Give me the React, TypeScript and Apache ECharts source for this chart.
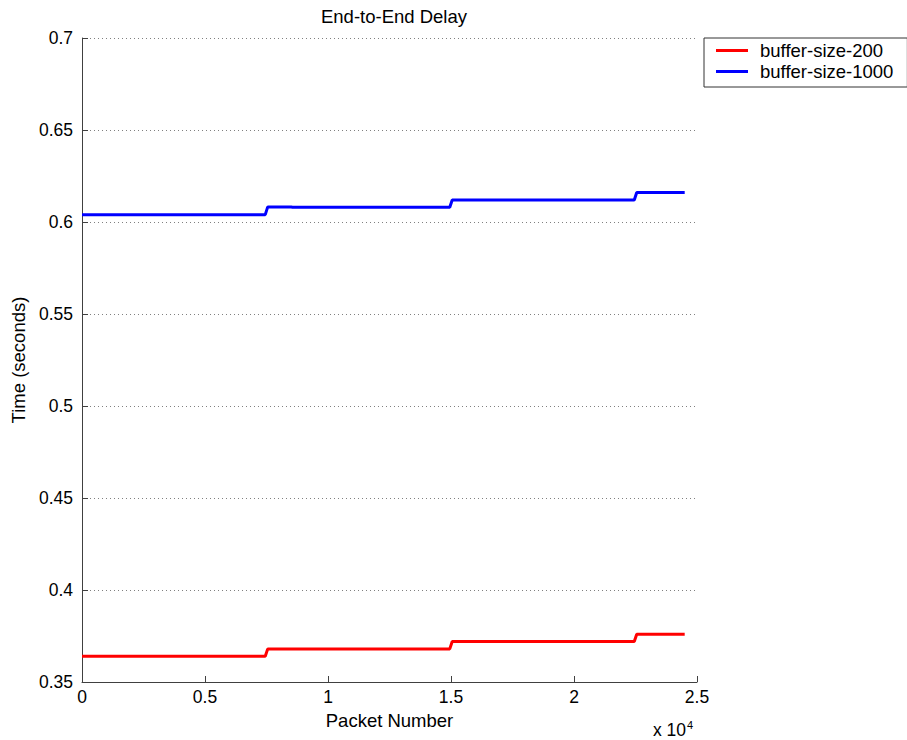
import React, { useEffect, useRef } from "react";
import * as echarts from "echarts";

// Packet index and end-to-end delay (seconds) for each buffer size
const series200: [number, number][] = [
  [0, 0.364],
  [7450, 0.364],
  [7550, 0.368],
  [14950, 0.368],
  [15050, 0.372],
  [22450, 0.372],
  [22550, 0.376],
  [24500, 0.376],
];

const series1000: [number, number][] = [
  [0, 0.604],
  [7450, 0.604],
  [7550, 0.6082],
  [8500, 0.6082],
  [8550, 0.608],
  [14950, 0.608],
  [15050, 0.612],
  [22450, 0.612],
  [22550, 0.616],
  [24500, 0.616],
];

const seriesNames = ["buffer-size-200", "buffer-size-1000"];
const seriesColors = ["#ff0000", "#0000ff"];

const FONT = "'Liberation Sans', Arial, Helvetica, sans-serif";
const AXIS_COLOR = "#404040";
const TEXT_SIZE = 18.5;

export default function App() {
  const ref = useRef<HTMLDivElement>(null);

  useEffect(() => {
    if (!ref.current) return;
    const chart = echarts.init(ref.current, null, { renderer: "svg" });
    chart.setOption({
      animation: false,
      backgroundColor: "#ffffff",
      textStyle: { fontFamily: FONT },
      title: {
        text: "End-to-End Delay",
        left: 389,
        top: 2,
        textAlign: "center",
        textStyle: { fontSize: TEXT_SIZE, fontWeight: "normal", color: "#000", fontFamily: FONT },
      },
      legend: {
        orient: "vertical",
        left: 704,
        top: 38,
        padding: [3, 14, 6, 12],
        itemGap: 2,
        itemWidth: 32,
        itemHeight: 3,
        icon: "rect",
        borderColor: "#333",
        borderWidth: 1,
        backgroundColor: "#fff",
        textStyle: { fontSize: TEXT_SIZE, color: "#000", fontFamily: FONT, padding: [0, 0, 0, 7] },
        data: seriesNames,
      },
      grid: { left: 82, top: 38, width: 615, height: 644, containLabel: false },
      xAxis: {
        type: "value",
        min: 0,
        max: 25000,
        interval: 5000,
        name: "Packet Number",
        nameLocation: "middle",
        nameGap: 29,
        nameTextStyle: { fontSize: TEXT_SIZE, color: "#000", fontFamily: FONT },
        axisLine: { show: true, lineStyle: { color: AXIS_COLOR, width: 1 } },
        axisTick: { show: true, inside: true, length: 6, lineStyle: { color: AXIS_COLOR } },
        axisLabel: {
          fontSize: 17.5,
          color: "#000",
          margin: 6,
          fontFamily: FONT,
          formatter: (v: number) => String(v / 10000),
        },
        splitLine: { show: false },
      },
      yAxis: {
        type: "value",
        min: 0.35,
        max: 0.7,
        interval: 0.05,
        name: "Time (seconds)",
        nameLocation: "middle",
        nameGap: 50,
        nameTextStyle: { fontSize: TEXT_SIZE, color: "#000", fontFamily: FONT },
        axisLine: { show: true, lineStyle: { color: AXIS_COLOR, width: 1 } },
        axisTick: { show: true, inside: true, length: 6, lineStyle: { color: AXIS_COLOR } },
        axisLabel: {
          fontSize: 17.5,
          color: "#000",
          margin: 9,
          fontFamily: FONT,
          formatter: (v: number) => String(Math.round(v * 100) / 100),
        },
        splitLine: {
          show: true,
          lineStyle: { color: "#808080", width: 1, type: [1, 3] },
        },
      },
      graphic: [
        {
          type: "text",
          left: 653,
          top: 719,
          style: {
            text: "{a|x 10}{b|4}",
            fontSize: 17.5,
            fontFamily: FONT,
            fill: "#000",
            rich: {
              a: { fontSize: 17.5, fontFamily: FONT, fill: "#000" },
              b: { fontSize: 11, fontFamily: FONT, fill: "#000", padding: [0, 0, 11, 1] },
            },
          },
        },
      ],
      series: [
        {
          name: seriesNames[0],
          type: "line",
          data: series200,
          symbol: "none",
          color: seriesColors[0],
          lineStyle: { color: seriesColors[0], width: 3 },
        },
        {
          name: seriesNames[1],
          type: "line",
          data: series1000,
          symbol: "none",
          color: seriesColors[1],
          lineStyle: { color: seriesColors[1], width: 3 },
        },
      ],
    });
    return () => chart.dispose();
  }, []);

  return (
    <div
      ref={ref}
      style={{ position: "fixed", left: 0, top: 0, width: 907, height: 740, background: "#fff" }}
    />
  );
}
